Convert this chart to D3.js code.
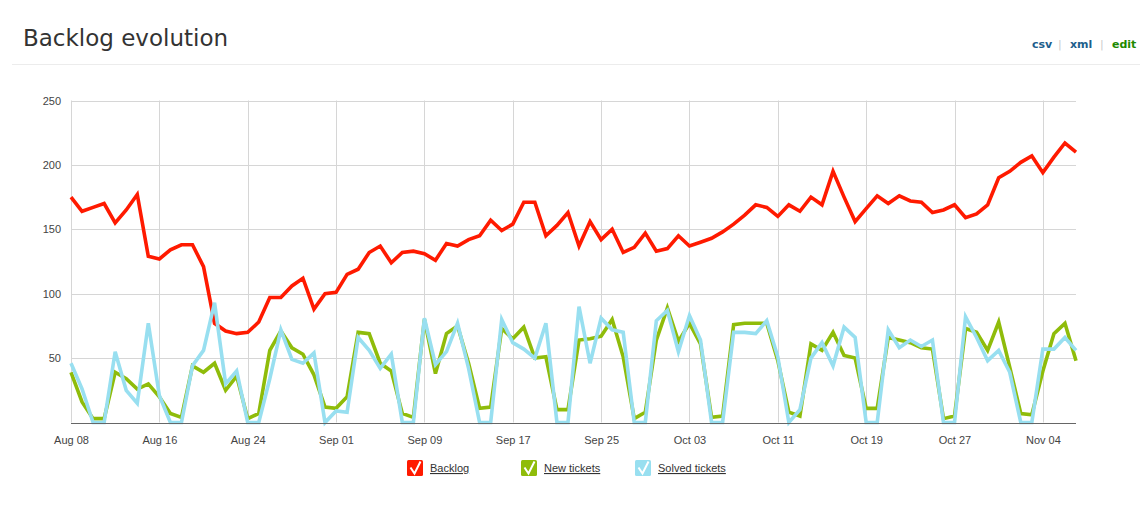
<!DOCTYPE html>
<html>
<head>
<meta charset="utf-8">
<script src="https://cdnjs.cloudflare.com/ajax/libs/d3/7.8.5/d3.min.js"></script>
<style>
  body { margin: 0; background: #fff; }
  svg { display: block; }
</style>
</head>
<body>
<script>
// one value per day, starting Aug 08
var startDate = "2011-08-08";

var backlog = [175, 164, 167, 170, 155, 165, 177, 129, 127, 134, 138, 138, 121, 77, 71, 69, 70, 78, 97, 97,
  106, 112, 88, 100, 101, 115, 119, 132, 137, 124, 132, 133, 131, 126, 139, 137, 142, 145, 157, 149,
  154, 171, 171, 145, 153, 163, 137, 156, 142, 150, 132, 136, 147, 133, 135, 145, 137, 140, 143, 148,
  154, 161, 169, 167, 160, 169, 164, 175, 169, 195, 175, 156, 166, 176, 170, 176, 172, 171, 163, 165,
  169, 159, 162, 169, 190, 195, 202, 207, 194, 206, 217, 210];

var newTickets = [39, 16, 3, 3, 39, 34, 26, 30, 20, 7, 4, 44, 39, 46, 25, 36, 3, 7, 56, 71,
  58, 53, 37, 12, 11, 20, 70, 69, 46, 40, 7, 4, 80, 38, 69, 75, 46, 11, 12, 73,
  65, 74, 50, 51, 10, 10, 64, 65, 67, 80, 51, 3, 8, 64, 89, 63, 77, 61, 4, 5,
  76, 77, 77, 77, 48, 8, 5, 61, 56, 70, 52, 50, 11, 11, 66, 64, 62, 58, 57, 3,
  5, 73, 70, 56, 78, 43, 7, 6, 40, 69, 77, 48];

var solvedTickets = [46, 26, 0, 0, 55, 25, 15, 77, 21, 0, 0, 44, 56, 93, 30, 40, 0, 0, 34, 72,
  49, 46, 54, 0, 9, 8, 66, 56, 42, 53, 0, 0, 81, 45, 55, 77, 42, 0, 0, 80,
  62, 57, 50, 77, 0, 0, 90, 46, 81, 72, 70, 0, 0, 79, 87, 55, 83, 64, 0, 0,
  70, 70, 69, 79, 51, 0, 10, 50, 62, 44, 74, 66, 0, 0, 72, 58, 64, 59, 64, 0,
  0, 82, 66, 48, 56, 39, 0, 0, 57, 57, 66, 56];

var yTicks = [50, 100, 150, 200, 250];
var seriesNames = ["Backlog", "New tickets", "Solved tickets"];
var seriesColors = ["#ff1a00", "#8fbc0a", "#98dff0"];

var W = 1147, H = 507;
var margin = {left: 71, right: 71, top: 100, bottom: 85};

var parse = d3.timeParse("%Y-%m-%d");
var dates = d3.timeDay.range(parse(startDate), d3.timeDay.offset(parse(startDate), backlog.length));
var tickDates = dates.filter(function(d, i){ return i % 8 === 0; });

var svg = d3.select("body").append("svg").attr("width", W).attr("height", H);

// header
svg.append("text")
  .attr("x", 23).attr("y", 46)
  .attr("font-family", "DejaVu Sans, sans-serif")
  .attr("font-size", 23)
  .attr("fill", "#333")
  .text("Backlog evolution");

svg.append("line")
  .attr("x1", 12).attr("x2", 1140).attr("y1", 64.5).attr("y2", 64.5)
  .attr("stroke", "#ececec");

var links = [{t: "csv", x: 1032, c: "#1d5e8c"}, {t: "|", x: 1058, c: "#ccc"},
             {t: "xml", x: 1070, c: "#1d5e8c"}, {t: "|", x: 1100, c: "#ccc"},
             {t: "edit", x: 1112, c: "#1e8a00"}];
svg.selectAll("text.link").data(links).enter().append("text")
  .attr("class", "link")
  .attr("x", function(d){ return d.x; }).attr("y", 48)
  .attr("font-family", "DejaVu Sans, sans-serif")
  .attr("font-size", 11)
  .attr("font-weight", function(d){ return d.t === "|" ? "normal" : "bold"; })
  .attr("fill", function(d){ return d.c; })
  .text(function(d){ return d.t; });

// scales
var x = d3.scaleTime()
  .domain([dates[0], dates[dates.length - 1]])
  .range([margin.left, 1076]);
var y = d3.scaleLinear().domain([0, 250]).range([422.5, 100.5]);

var g = svg.append("g");

// grid
g.selectAll("line.hgrid").data(yTicks).enter().append("line")
  .attr("class", "hgrid")
  .attr("x1", x.range()[0]).attr("x2", x.range()[1])
  .attr("y1", function(d){ return Math.round(y(d)) + 0.5; })
  .attr("y2", function(d){ return Math.round(y(d)) + 0.5; })
  .attr("stroke", "#d6d6d6");

g.selectAll("line.vgrid").data(tickDates).enter().append("line")
  .attr("class", "vgrid")
  .attr("x1", function(d){ return Math.round(x(d)) + 0.5; })
  .attr("x2", function(d){ return Math.round(x(d)) + 0.5; })
  .attr("y1", y(250)).attr("y2", y(0))
  .attr("stroke", "#d6d6d6");

// axes
var yAxis = d3.axisLeft(y).tickValues(yTicks).tickSize(0).tickPadding(10);
var ya = svg.append("g").attr("transform", "translate(" + (margin.left) + ",0)").call(yAxis);
ya.select(".domain").remove();
ya.selectAll("text").attr("font-family", "Liberation Sans, Arial, sans-serif")
  .attr("font-size", 11).attr("fill", "#444");

var xAxis = d3.axisBottom(x).tickValues(tickDates).tickSize(0).tickPadding(14)
  .tickFormat(d3.timeFormat("%b %d"));
var xa = svg.append("g").attr("transform", "translate(0," + y(0) + ")").call(xAxis);
xa.select(".domain").remove();
xa.selectAll("text").attr("font-family", "Liberation Sans, Arial, sans-serif")
  .attr("font-size", 11).attr("fill", "#444");

svg.append("line")
  .attr("x1", x.range()[0]).attr("x2", x.range()[1])
  .attr("y1", Math.round(y(0)) + 0.5).attr("y2", Math.round(y(0)) + 0.5)
  .attr("stroke", "#666");

// lines
var line = d3.line()
  .x(function(d, i){ return x(dates[i]); })
  .y(function(d){ return y(d); });

[backlog, newTickets, solvedTickets].forEach(function(s, k){
  g.append("path")
    .attr("fill", "none")
    .attr("stroke", seriesColors[k])
    .attr("stroke-width", 3.6)
    .attr("stroke-linejoin", "miter")
    .attr("d", line(s));
});

// legend
var legendX = [407, 521, 635];
var lg = svg.selectAll("g.legend").data(seriesNames).enter().append("g")
  .attr("class", "legend")
  .attr("transform", function(d, i){ return "translate(" + legendX[i] + ",460)"; });

lg.append("rect")
  .attr("width", 16).attr("height", 16).attr("rx", 1.5)
  .attr("fill", function(d, i){ return seriesColors[i]; });
lg.append("path")
  .attr("d", "M3.5,7.5 L7.5,13.5 L13.5,1.5")
  .attr("fill", "none").attr("stroke", "#fff").attr("stroke-width", 2);
lg.append("text")
  .attr("x", 23).attr("y", 12)
  .attr("font-family", "Liberation Sans, Arial, sans-serif")
  .attr("font-size", 11)
  .attr("fill", "#333")
  .attr("text-decoration", "underline")
  .text(function(d){ return d; });
</script>
</body>
</html>
